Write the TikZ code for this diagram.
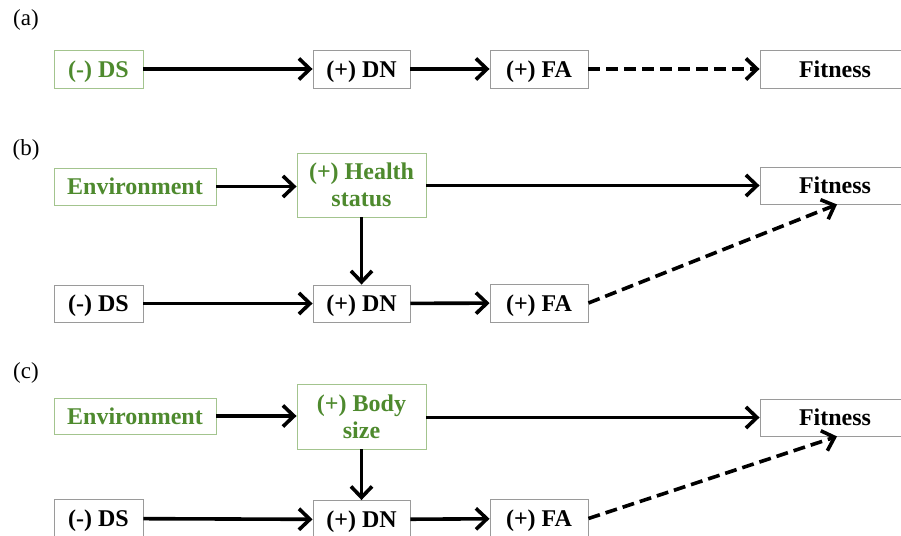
\documentclass[tikz,border=0pt]{standalone}
\usepackage{fontspec}
\setmainfont{Liberation Serif}
\usetikzlibrary{arrows.meta,calc}
\definecolor{leafgreen}{HTML}{4E8A2E}
\definecolor{leafborder}{HTML}{A3C48E}
\definecolor{boxgray}{HTML}{9A9A9A}
\tikzset{
  plainbox/.style={draw=boxgray, line width=0.9pt, fill=white, rectangle, inner sep=0pt,
    minimum height=38pt, align=center, text depth=0pt,
    font=\fontsize{24}{27}\selectfont\bfseries, text=black},
  greenbox/.style={plainbox, draw=leafborder, text=leafgreen},
  panel/.style={font=\fontsize{23}{26}\selectfont, text=black, inner sep=0pt},
  arr/.style={line width=3.6pt, -{Straight Barb[length=11pt,width=21pt,line width=3.6pt]}},
  darr/.style={arr, dash pattern=on 12pt off 6pt},
}
\begin{document}
\begin{tikzpicture}[x=1pt,y=-1pt]
\useasboundingbox (0,0) rectangle (901,535);
\clip (0,0) rectangle (901,535);
% (a)
\node[panel] (la) at (26,20) {(a)};
\node[greenbox, minimum width=89pt] (aDS) at (98.5,69) {(-) DS};
\node[plainbox, minimum width=97pt] (aDN) at (361.5,69) {(+) DN};
\node[plainbox, minimum width=98pt] (aFA) at (539,69) {(+) FA};
\node[plainbox, minimum width=150pt] (aFit) at (835,69) {Fitness};
\draw[arr] (aDS) -- (aDN);
\draw[arr] (aDN) -- (aFA);
\draw[darr] (aFA) -- (aFit);
% (b)
\node[panel] (lb) at (26,150) {(b)};
\node[greenbox, minimum width=162pt, minimum height=37pt] (bEnv) at (135,186.5) {Environment};
\node[greenbox, minimum width=129pt, minimum height=64pt] (bHS) at (361.5,185) {(+) Health\\status};
\node[plainbox, minimum width=150pt, minimum height=37pt] (bFit) at (835,185.5) {Fitness};
\node[plainbox, minimum width=89pt, minimum height=37pt] (bDS) at (98.5,303.5) {(-) DS};
\node[plainbox, minimum width=97pt, minimum height=37pt] (bDN) at (361.5,303.5) {(+) DN};
\node[plainbox, minimum width=98pt] (bFA) at (539,303) {(+) FA};
\draw[arr] (bEnv) -- (bHS.west |- bEnv.east);
\draw[arr] (bHS.east |- bFit.west) -- (bFit);
\draw[arr] (bHS) -- (bDN);
\draw[arr] (bDS) -- (bDN);
\draw[arr] (bDN) -- (bFA);
\draw[darr] (bFA.east) -- ($(bFit.south)+(2,0)$);
% (c)
\node[panel] (lc) at (26,373) {(c)};
\node[greenbox, minimum width=162pt, minimum height=36pt] (cEnv) at (135,416) {Environment};
\node[greenbox, minimum width=129pt, minimum height=65pt] (cBS) at (361.5,416.5) {(+) Body\\size};
\node[plainbox, minimum width=150pt, minimum height=37pt] (cFit) at (835,417.5) {Fitness};
\node[plainbox, minimum width=89pt] (cDS) at (98.5,518.5) {(-) DS};
\node[plainbox, minimum width=97pt] (cDN) at (361.5,519.5) {(+) DN};
\node[plainbox, minimum width=98pt] (cFA) at (539,518.5) {(+) FA};
\draw[arr] (cEnv) -- (cBS.west |- cEnv.east);
\draw[arr] (cBS.east |- cFit.west) -- (cFit);
\draw[arr] (cBS) -- (cDN);
\draw[arr] (cDS) -- (cDN);
\draw[arr] (cDN) -- (cFA);
\draw[darr] (cFA.east) -- ($(cFit.south)+(2,0)$);
\end{tikzpicture}
\end{document}
